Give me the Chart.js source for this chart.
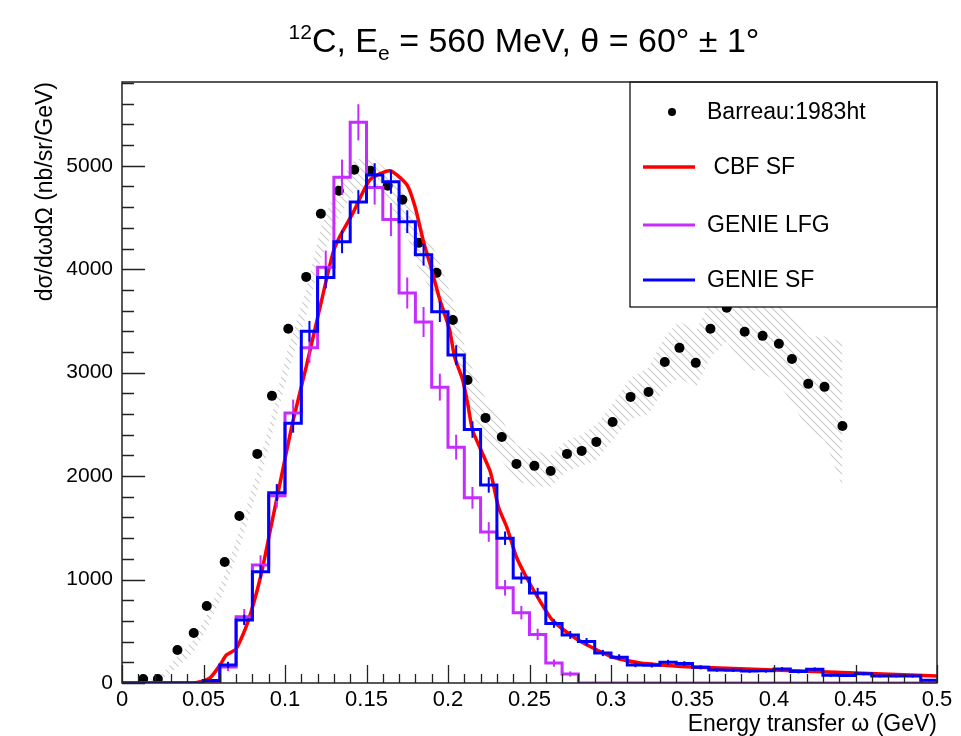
<!DOCTYPE html>
<html>
<head>
<meta charset="utf-8">
<script src="https://cdn.jsdelivr.net/npm/chart.js@4.4.0/dist/chart.umd.min.js"></script>
<style>
  body { margin: 0; background: #fff; }
  #wrap { width: 961px; height: 736px; }
</style>
</head>
<body>
<div id="wrap"><canvas id="xsec" width="961" height="736"></canvas></div>
<script>
// bin edges of the GENIE histograms (GeV)
const binEdges = [0, 0.01, 0.02, 0.03, 0.04, 0.05, 0.06, 0.07, 0.08, 0.09,
  0.10, 0.11, 0.12, 0.13, 0.14, 0.15, 0.16, 0.17, 0.18, 0.19,
  0.20, 0.21, 0.22, 0.23, 0.24, 0.25, 0.26, 0.27, 0.28, 0.29,
  0.30, 0.31, 0.32, 0.33, 0.34, 0.35, 0.36, 0.37, 0.38, 0.39,
  0.40, 0.41, 0.42, 0.43, 0.44, 0.45, 0.46, 0.47, 0.48, 0.49, 0.50];

const genieSF = [0, 0, 0, 0, 0, 25, 175, 610, 1075, 1840,
  2510, 3400, 3920, 4265, 4650, 4910, 4845, 4460, 4140, 3590,
  3170, 2450, 1915, 1400, 1015, 870, 575, 465, 400, 290,
  250, 175, 172, 200, 188, 152, 126, 124, 116, 118,
  135, 110, 132, 74, 72, 90, 68, 68, 67, 26];
const genieSFerr = [0, 0, 0, 0, 0, 10, 30, 50, 65, 80,
  90, 100, 105, 110, 115, 115, 115, 110, 105, 100,
  95, 80, 75, 65, 55, 50, 42, 38, 35, 30,
  28, 22, 22, 24, 23, 20, 18, 18, 18, 18,
  19, 17, 19, 15, 14, 16, 14, 14, 14, 10];

const genieLFG = [0, 0, 0, 0, 0, 8, 155, 640, 1140, 1810,
  2610, 3240, 4020, 4890, 5420, 4790, 4480, 3770, 3490, 2860,
  2280, 1790, 1460, 920, 680, 470, 193, 87, 0, 0,
  0, 0, 0, 0, 0, 0, 0, 0, 0, 0,
  0, 0, 0, 0, 0, 0, 0, 0, 0, 0];
const genieLFGerr = [0, 0, 0, 0, 0, 10, 40, 75, 95, 115,
  130, 145, 160, 170, 175, 165, 160, 150, 145, 130,
  120, 105, 95, 75, 65, 55, 35, 25, 0, 0,
  0, 0, 0, 0, 0, 0, 0, 0, 0, 0,
  0, 0, 0, 0, 0, 0, 0, 0, 0, 0];

// CBF spectral function curve
const cbfX = [0, 0.04, 0.046, 0.054, 0.06, 0.064, 0.07, 0.077, 0.085, 0.091,
  0.099, 0.105, 0.113, 0.121, 0.1294, 0.1335, 0.1417, 0.1521, 0.1644, 0.1748,
  0.1798, 0.1847, 0.19, 0.195, 0.201, 0.204, 0.209, 0.212, 0.215, 0.221,
  0.226, 0.231, 0.236, 0.242, 0.248, 0.256, 0.264, 0.277, 0.289, 0.301,
  0.318, 0.335, 0.35, 0.375, 0.40, 0.425, 0.45, 0.475, 0.50];
const cbfY = [0, 0, 5, 50, 170, 270, 330, 580, 1025, 1480,
  2090, 2540, 3056, 3600, 4158, 4313, 4545, 4864, 4952, 4816,
  4603, 4284, 3994, 3704, 3414, 3153, 2930, 2708, 2447, 2224,
  2040, 1700, 1509, 1218, 1025, 803, 609, 445, 338, 251,
  193, 170, 155, 140, 126, 112, 97, 82, 68];

// Barreau:1983ht data and its hatched band
const dataX = [0.013, 0.022, 0.034, 0.044, 0.052, 0.063, 0.072, 0.083, 0.092, 0.102,
  0.113, 0.122, 0.133, 0.1425, 0.1525, 0.163, 0.172, 0.182, 0.193, 0.203,
  0.212, 0.223, 0.233, 0.242, 0.253, 0.263, 0.273, 0.282, 0.291, 0.301,
  0.312, 0.323, 0.333, 0.342, 0.352, 0.361, 0.371, 0.382, 0.393, 0.403,
  0.411, 0.421, 0.431, 0.442];
const dataY = [39, 39, 319, 484, 745, 1170, 1615, 2215, 2776, 3424,
  3926, 4536, 4758, 4961, 4951, 4807, 4671, 4255, 3965, 3510,
  2930, 2563, 2379, 2118, 2099, 2050, 2215, 2244, 2331, 2524,
  2766, 2814, 3104, 3240, 3095, 3424, 3627, 3395, 3356, 3279,
  3133, 2892, 2863, 2485];
const bandLo = [0, 0, 150, 300, 520, 900, 1300, 1850, 2400, 3000,
  3550, 4100, 4500, 4750, 4800, 4650, 4450, 4000, 3700, 3250,
  2700, 2350, 2150, 1950, 1900, 1900, 2050, 2100, 2150, 2350,
  2550, 2600, 2850, 2950, 2850, 3150, 3300, 3050, 3000, 2900,
  2700, 2450, 2350, 1900];
const bandHi = [30, 40, 260, 420, 660, 1050, 1480, 2050, 2600, 3250,
  3800, 4400, 4850, 5050, 5100, 4950, 4800, 4450, 4150, 3700,
  3150, 2750, 2550, 2300, 2250, 2200, 2350, 2400, 2500, 2700,
  2950, 3050, 3350, 3500, 3400, 3700, 3900, 3750, 3700, 3650,
  3550, 3350, 3350, 3300];

const xTicks = [0, 0.05, 0.1, 0.15, 0.2, 0.25, 0.3, 0.35, 0.4, 0.45, 0.5];
const xTickLabels = ["0", "0.05", "0.1", "0.15", "0.2", "0.25", "0.3", "0.35", "0.4", "0.45", "0.5"];
const yTicks = [0, 1000, 2000, 3000, 4000, 5000];
const yTickLabels = ["0", "1000", "2000", "3000", "4000", "5000"];

const FONT = '"Liberation Sans", Arial, sans-serif';

// point i sits on the left edge of bin i; last edge repeats the last bin
function stepPoints(vals) {
  return binEdges.map((x, i) => ({x: x, y: vals[Math.min(i, vals.length - 1)]}));
}

// light gray hatch like ROOT fill style 3004
const hatchCanvas = document.createElement('canvas');
hatchCanvas.width = 8; hatchCanvas.height = 8;
const hc = hatchCanvas.getContext('2d');
hc.strokeStyle = 'rgba(175,175,175,0.65)';
hc.lineWidth = 1.1;
hc.beginPath();
hc.moveTo(0, 0); hc.lineTo(8, 8);
hc.moveTo(-4, 4); hc.lineTo(4, 12);
hc.moveTo(4, -4); hc.lineTo(12, 4);
hc.stroke();
const hatch = hc.createPattern(hatchCanvas, 'repeat');

// vertical stat error bars at bin centres
const errorBars = {
  id: 'errorBars',
  afterDatasetDraw(chart, args) {
    const ds = chart.data.datasets[args.index];
    if (!ds.errs) return;
    const {ctx, scales: {x, y}} = chart;
    ctx.save();
    ctx.strokeStyle = ds.borderColor;
    ctx.lineWidth = 2;
    ds.errs.forEach((e, i) => {
      if (!e) return;
      const cx = x.getPixelForValue((binEdges[i] + binEdges[i + 1]) / 2);
      const v = ds.vals[i];
      ctx.beginPath();
      ctx.moveTo(cx, y.getPixelForValue(v - e));
      ctx.lineTo(cx, y.getPixelForValue(v + e));
      ctx.stroke();
    });
    ctx.restore();
  }
};

const rootLegend = {
  id: 'rootLegend',
  afterDatasetsDraw(chart) {
    const {ctx, chartArea: a} = chart;
    const ds = chart.data.datasets;
    const L = 630, T = a.top, R = a.right, B = 307;
    ctx.save();
    ctx.fillStyle = '#fff';
    ctx.fillRect(L, T, R - L, B - T);
    ctx.strokeStyle = '#000';
    ctx.lineWidth = 1.2;
    ctx.strokeRect(L, T, R - L, B - T);
    const rows = [ds[3], ds[2], ds[1], ds[0]];
    const ys = [112, 167, 225, 280];
    ctx.font = '23px ' + FONT;
    ctx.textBaseline = 'middle';
    ctx.fillStyle = '#000';
    rows.forEach((d, i) => {
      const yy = ys[i];
      if (d.showLine === false) {
        ctx.beginPath();
        ctx.arc(672, yy, 4, 0, Math.PI * 2);
        ctx.fillStyle = '#000';
        ctx.fill();
      } else {
        ctx.strokeStyle = d.borderColor;
        ctx.lineWidth = d.borderWidth;
        ctx.beginPath();
        ctx.moveTo(643, yy);
        ctx.lineTo(695, yy);
        ctx.stroke();
      }
      ctx.fillStyle = '#000';
      ctx.fillText(d.label, 707, yy + 1);
    });
    ctx.restore();
  }
};

const frameAndTitle = {
  id: 'frameAndTitle',
  afterDraw(chart) {
    const {ctx, chartArea: a, scales: {x, y}} = chart;
    ctx.save();
    ctx.strokeStyle = '#222';
    ctx.lineWidth = 1.5;
    ctx.strokeRect(a.left, a.top, a.right - a.left, a.bottom - a.top);
    // ticks drawn inwards, ROOT style
    ctx.lineWidth = 1.3;
    ctx.beginPath();
    binEdges.forEach((v, i) => {
      const px = Math.round(x.getPixelForValue(v)) + 0.5;
      const len = i % 5 === 0 ? 18 : 9;
      ctx.moveTo(px, a.bottom);
      ctx.lineTo(px, a.bottom - len);
    });
    for (let v = 0; v <= 5800; v += 200) {
      const py = Math.round(y.getPixelForValue(v)) + 0.5;
      const len = v % 1000 === 0 ? 23 : 12;
      ctx.moveTo(a.left, py);
      ctx.lineTo(a.left + len, py);
    }
    ctx.stroke();

    // title: 12C, E_e = 560 MeV, theta = 60 deg +- 1 deg
    const big = 34, small = 21;
    const parts = [
      {t: '12', f: small, dy: -13},
      {t: 'C, E', f: big, dy: 0},
      {t: 'e', f: small, dy: 8},
      {t: ' = 560 MeV, \u03b8 = 60\u00b0 \u00b1 1\u00b0', f: big, dy: 0}
    ];
    let total = 0;
    parts.forEach(p => { ctx.font = p.f + 'px ' + FONT; p.w = ctx.measureText(p.t).width; total += p.w; });
    let cx = 524 - total / 2;
    ctx.fillStyle = '#000';
    ctx.textBaseline = 'alphabetic';
    parts.forEach(p => {
      ctx.font = p.f + 'px ' + FONT;
      ctx.fillText(p.t, cx, 52 + p.dy);
      cx += p.w;
    });
    ctx.restore();
  }
};

new Chart('xsec', {
  type: 'line',
  data: {
    datasets: [
      {
        label: 'GENIE SF',
        data: stepPoints(genieSF),
        vals: genieSF,
        errs: genieSFerr,
        stepped: 'before',
        borderColor: '#0000ff',
        borderWidth: 3,
        pointRadius: 0,
        fill: false
      },
      {
        label: 'GENIE LFG',
        data: stepPoints(genieLFG),
        vals: genieLFG,
        errs: genieLFGerr,
        stepped: 'before',
        borderColor: '#c42cff',
        borderWidth: 3,
        pointRadius: 0,
        fill: false
      },
      {
        label: ' CBF SF',
        data: cbfX.map((x, i) => ({x: x, y: cbfY[i]})),
        borderColor: '#ff0000',
        borderWidth: 3.5,
        pointRadius: 0,
        tension: 0.2,
        fill: false
      },
      {
        label: 'Barreau:1983ht',
        data: dataX.map((x, i) => ({x: x, y: dataY[i]})),
        showLine: false,
        pointRadius: 5,
        pointBackgroundColor: '#000',
        pointBorderColor: '#000',
        pointBorderWidth: 0
      },
      {
        label: 'band low',
        data: dataX.map((x, i) => ({x: x, y: bandLo[i]})),
        borderWidth: 0,
        borderColor: 'rgba(0,0,0,0)',
        pointRadius: 0,
        fill: false
      },
      {
        label: 'band high',
        data: dataX.map((x, i) => ({x: x, y: bandHi[i]})),
        borderWidth: 0,
        borderColor: 'rgba(0,0,0,0)',
        backgroundColor: hatch,
        pointRadius: 0,
        fill: '-1'
      }
    ]
  },
  options: {
    responsive: false,
    animation: false,
    events: [],
    layout: { padding: { top: 82, right: 24, left: 0, bottom: 0 } },
    plugins: {
      legend: { display: false },
      title: { display: false },
      tooltip: { enabled: false }
    },
    scales: {
      x: {
        type: 'linear',
        min: 0,
        max: 0.5,
        grid: { display: false },
        border: { display: false },
        afterBuildTicks: s => { s.ticks = xTicks.map(v => ({value: v})); },
        afterFit: s => { s.height = 53; },
        ticks: {
          autoSkip: false,
          maxRotation: 0,
          padding: -4,
          color: '#000',
          font: { family: FONT, size: 22 },
          callback: (v, i) => xTickLabels[i]
        },
        title: {
          display: true,
          text: 'Energy transfer \u03c9 (GeV)',
          align: 'end',
          color: '#000',
          padding: { top: 0, bottom: -2 },
          font: { family: FONT, size: 23 }
        }
      },
      y: {
        type: 'linear',
        min: 0,
        max: 5810,
        grid: { display: false },
        border: { display: false },
        afterBuildTicks: s => { s.ticks = yTicks.map(v => ({value: v})); },
        afterFit: s => { s.width = 122; },
        ticks: {
          padding: 1,
          color: '#000',
          font: { family: FONT, size: 21 },
          callback: (v, i) => yTickLabels[i]
        },
        title: {
          display: true,
          text: 'd\u03c3/d\u03c9d\u03a9 (nb/sr/GeV)',
          align: 'end',
          color: '#000',
          padding: { top: 32, bottom: 0 },
          font: { family: FONT, size: 23 }
        }
      }
    }
  },
  plugins: [errorBars, rootLegend, frameAndTitle]
});
</script>
</body>
</html>
